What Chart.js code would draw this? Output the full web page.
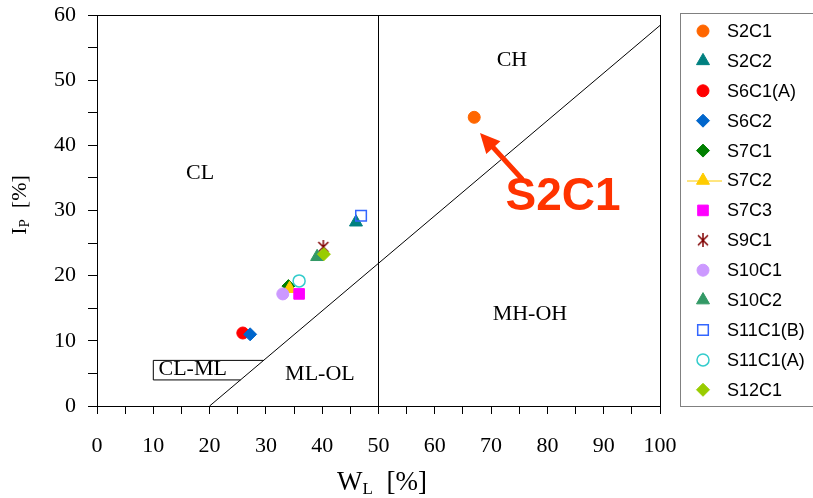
<!DOCTYPE html>
<html>
<head>
<meta charset="utf-8">
<script src="https://cdn.jsdelivr.net/npm/chart.js@4/dist/chart.umd.min.js"></script>
<style>
    html, body { margin: 0; padding: 0; background: #fff; }
    #wrap { width: 813px; height: 498px; }
</style>
</head>
<body>
<div id="wrap"><canvas id="plasticity"></canvas></div>
<script>
// samples
const names = ['S2C1', 'S2C2', 'S6C1(A)', 'S6C2', 'S7C1', 'S7C2', 'S7C3', 'S9C1', 'S10C1', 'S10C2', 'S11C1(B)', 'S11C1(A)', 'S12C1'];
const liquidLimit = [67.0, 46.0, 25.9, 27.2, 34.0, 34.2, 35.9, 40.2, 33.0, 39.1, 46.9, 35.9, 40.3];
const plasticityIndex = [44.3, 28.2, 11.2, 11.0, 18.4, 18.0, 17.2, 24.4, 17.2, 22.9, 29.2, 19.2, 23.3];

// chart reference lines
const aLineX = [20, 100];
const aLineY = [0, 58.4];
const clmlX = [25.5, 10, 10, 29.6];
const clmlY = [4, 4, 7, 7];

const xTicks = [0, 10, 20, 30, 40, 50, 60, 70, 80, 90, 100];
const yTicks = [0, 10, 20, 30, 40, 50, 60];

const colors = ['#ff6600', '#008080', '#ff0000', '#0066cc', '#008000', '#ffcc00', '#ff00ff', '#800000', '#cc99ff', '#339966', '#3366ff', '#33cccc', '#99cc00'];
const styles = ['circle', 'triangle', 'circle', 'rectRot', 'rectRot', 'triangle', 'rect', 'asterisk', 'circle', 'triangle', 'rect', 'circle', 'rectRot'];
const hollow = [false, false, false, false, false, false, false, false, false, false, true, true, false];

const serif = "'Liberation Serif', 'Times New Roman', serif";
const sans = "'Liberation Sans', Arial, sans-serif";

// excel-like asterisk marker: X with a vertical stroke
function makeAsterisk(color) {
    const c = document.createElement('canvas');
    c.width = 14; c.height = 14;
    const g = c.getContext('2d');
    g.strokeStyle = color;
    g.lineWidth = 1.5;
    g.beginPath();
    g.moveTo(2, 2); g.lineTo(12, 12);
    g.moveTo(12, 2); g.lineTo(2, 12);
    g.moveTo(7, 0); g.lineTo(7, 14);
    g.stroke();
    return c;
}

function markerStyle(i) {
    return styles[i] === 'asterisk' ? makeAsterisk(colors[i]) : styles[i];
}

function markerRadius(i) {
    const s = styles[i];
    if (s === 'rect') return 7.5;
    if (s === 'triangle') return 7.5;
    if (s === 'rectRot') return 6.5;
    return 6;
}

const pointSets = names.map((name, i) => ({
    type: 'scatter',
    label: name,
    data: [{ x: liquidLimit[i], y: plasticityIndex[i] }],
    pointStyle: markerStyle(i),
    pointRadius: markerRadius(i),
    backgroundColor: hollow[i] ? 'rgba(255,255,255,0)' : colors[i],
    borderColor: colors[i],
    borderWidth: hollow[i] ? 1.5 : 1,
    order: names.length - i,
}));

function lineSet(xs, ys) {
    return {
        type: 'line',
        label: '',
        data: xs.map((x, k) => ({ x: x, y: ys[k] })),
        borderColor: '#000',
        borderWidth: 1,
        pointRadius: 0,
        fill: false,
        tension: 0,
        order: 50,
    };
}

const datasets = [
    lineSet(aLineX, aLineY),
    lineSet([50, 50], [0, 60]),
    lineSet(clmlX, clmlY),
    ...pointSets,
];

function drawSubText(ctx, parts, x, y, rotate) {
    ctx.save();
    ctx.translate(x, y);
    if (rotate) ctx.rotate(-Math.PI / 2);
    let total = 0;
    parts.forEach(p => { ctx.font = p.font; total += ctx.measureText(p.text).width; });
    let cx = -total / 2;
    ctx.textBaseline = 'alphabetic';
    ctx.textAlign = 'left';
    ctx.fillStyle = '#000';
    parts.forEach(p => {
        ctx.font = p.font;
        ctx.fillText(p.text, cx, p.dy || 0);
        cx += ctx.measureText(p.text).width;
    });
    ctx.restore();
}

const decorations = {
    id: 'decorations',
    afterDraw(chart) {
        const ctx = chart.ctx;
        const a = chart.chartArea;
        const xs = chart.scales.x, ys = chart.scales.y;

        // frame
        ctx.save();
        ctx.strokeStyle = '#000';
        ctx.lineWidth = 1;
        ctx.strokeRect(a.left + 0.5, a.top + 0.5, a.right - a.left, a.bottom - a.top);

        // zone labels
        ctx.fillStyle = '#000';
        ctx.font = '22px ' + serif;
        ctx.textAlign = 'center';
        ctx.textBaseline = 'middle';
        [['CL', 18.3, 35.7], ['CH', 73.7, 53.1], ['MH-OH', 76.9, 14.1], ['ML-OL', 39.6, 4.9], ['CL-ML', 17.0, 5.7]].forEach(t => {
            ctx.fillText(t[0], xs.getPixelForValue(t[1]), ys.getPixelForValue(t[2]));
        });

        // highlight arrow and label
        const red = '#ff3300';
        const tx = 522, ty = 179, hx = 480, hy = 133;
        const ang = Math.atan2(hy - ty, hx - tx);
        ctx.strokeStyle = red;
        ctx.fillStyle = red;
        ctx.lineWidth = 5;
        ctx.lineCap = 'round';
        ctx.beginPath();
        ctx.moveTo(tx, ty);
        ctx.lineTo(hx - 12 * Math.cos(ang), hy - 12 * Math.sin(ang));
        ctx.stroke();
        ctx.beginPath();
        ctx.moveTo(hx, hy);
        ctx.lineTo(hx - 22 * Math.cos(ang - 0.45), hy - 22 * Math.sin(ang - 0.45));
        ctx.lineTo(hx - 22 * Math.cos(ang + 0.45), hy - 22 * Math.sin(ang + 0.45));
        ctx.closePath();
        ctx.fill();
        ctx.font = 'bold 46px ' + sans;
        ctx.textAlign = 'center';
        ctx.textBaseline = 'middle';
        ctx.fillText('S2C1', 563, 197);
        ctx.restore();

        // axis titles with subscripts
        drawSubText(ctx, [
            { text: 'W', font: '27px ' + serif },
            { text: 'L', font: '17px ' + serif, dy: 4 },
            { text: '  [%]', font: '27px ' + serif },
        ], 382, 490, false);
        drawSubText(ctx, [
            { text: 'I', font: '22px ' + serif },
            { text: 'P', font: '15px ' + serif, dy: 3 },
            { text: '  [%]', font: '22px ' + serif },
        ], 26, 205, true);

        // legend
        const lx = 680, ly = 13, lw = 140, lh = 393;
        ctx.save();
        ctx.strokeStyle = '#808080';
        ctx.lineWidth = 1;
        ctx.strokeRect(lx + 0.5, ly + 0.5, lw, lh);
        ctx.font = '18px ' + sans;
        ctx.textAlign = 'left';
        ctx.textBaseline = 'middle';
        names.forEach((name, i) => {
            const y = 31 + i * 29.9;
            const x = 703;
            if (name === 'S7C2') {
                ctx.strokeStyle = colors[i];
                ctx.lineWidth = 1;
                ctx.beginPath();
                ctx.moveTo(687, y + 0.5);
                ctx.lineTo(722, y + 0.5);
                ctx.stroke();
            }
            ctx.fillStyle = hollow[i] ? 'rgba(255,255,255,0)' : colors[i];
            ctx.strokeStyle = colors[i];
            ctx.lineWidth = hollow[i] ? 1.5 : 1;
            const ds = pointSets[i];
            Chart.helpers.drawPoint(ctx, { pointStyle: ds.pointStyle, radius: ds.pointRadius, rotation: 0, borderWidth: ctx.lineWidth }, x, y);
            ctx.fillStyle = '#000';
            ctx.fillText(name, 727, y + 1);
        });
        ctx.restore();
    },
};

new Chart(document.getElementById('plasticity'), {
    type: 'scatter',
    data: { datasets },
    options: {
        responsive: true,
        maintainAspectRatio: false,
        animation: false,
        layout: { padding: { top: 15, right: 153, left: 0, bottom: 0 } },
        plugins: { legend: { display: false }, tooltip: { enabled: false } },
        scales: {
            x: {
                type: 'linear',
                min: 0, max: 100,
                afterFit: s => { s.height = 92; s.paddingLeft = 0; s.paddingRight = 0; },
                afterBuildTicks: s => { s.ticks = [...Array(21).keys()].map(k => ({ value: k * 5 })); },
                ticks: {
                    color: '#000',
                    font: { family: serif, size: 22 },
                    padding: 19,
                    maxRotation: 0,
                    autoSkip: false,
                    callback: v => xTicks.includes(v) ? String(v) : '',
                },
                grid: { drawOnChartArea: false, color: '#000', tickLength: 8, tickWidth: 1 },
                border: { color: '#000', width: 1 },
            },
            y: {
                type: 'linear',
                min: 0, max: 60,
                afterFit: s => { s.width = 97; s.paddingTop = 0; s.paddingBottom = 0; },
                afterBuildTicks: s => { s.ticks = [...Array(13).keys()].map(k => ({ value: k * 5 })); },
                ticks: {
                    color: '#000',
                    font: { family: serif, size: 22 },
                    padding: 12,
                    autoSkip: false,
                    callback: v => yTicks.includes(v) ? String(v) : '',
                },
                grid: { drawOnChartArea: false, color: '#000', tickLength: 9, tickWidth: 1 },
                border: { color: '#000', width: 1 },
            },
        },
    },
    plugins: [decorations],
});
</script>
</body>
</html>
